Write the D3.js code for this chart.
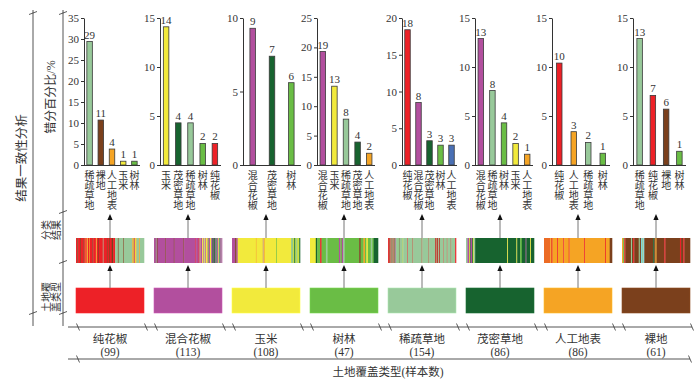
<!DOCTYPE html>
<html><head><meta charset="utf-8">
<script src="https://cdn.jsdelivr.net/npm/d3@7/dist/d3.min.js"></script>
<style>body{margin:0;background:#fff}svg{display:block}</style>
</head><body><svg id="c" width="700" height="382"></svg>
<script>
// ---------------- data ----------------
const classNames = {R:"纯花椒",P:"混合花椒",Y:"玉米",T:"树林",S:"稀疏草地",D:"茂密草地",A:"人工地表",B:"裸地",W:"人工地表"};
const landCovers = ["R","P","Y","T","S","D","A","B"];
const sampleCounts = [99,113,108,47,154,86,86,61];
const yMaxes = [35,15,10,25,20,15,15,15];
const errClasses = [
  ["S","B","A","Y","T"],
  ["Y","D","S","T","R"],
  ["P","D","T"],
  ["P","Y","S","D","A"],
  ["R","P","D","T","W"],
  ["P","S","T","Y","A"],
  ["R","A","S","T"],
  ["S","R","B","T"]
];
const errValues = [
  [29.4,10.7,3.8,0.9,0.9],
  [14.1,4.3,4.3,2.2,2.2],
  [9.3,7.4,5.6],
  [19.3,13.4,7.8,3.9,2.0],
  [18.4,8.5,3.3,2.7,2.7],
  [12.9,7.6,4.3,2.2,1.1],
  [10.4,3.4,2.3,1.2],
  [12.9,7.1,5.7,1.4]
];
const errLabels = [
  [29,11,4,1,1],
  [14,4,4,2,2],
  [9,7,6],
  [19,13,8,4,2],
  [18,8,3,3,3],
  [13,8,4,2,1],
  [10,3,2,1],
  [13,7,6,1]
];
// classified result of every sample (one letter per sample)
const stripes = [
  "RRBRRRBRRRRBRRARYRRARRRRBRRRRYRRBRRRRRRSRRRRRBRRBRRRBBRRRSSSSBSSSSSSSBSSSSSSSSSSSSAASRYASSSSASSSSSS",
  "PPPTPBPPPPPPPPPPPPPBPPPPPPPPPPPPPBPPPPPPPPPPPPPPPBPPPPPPPPPPPPPPPPPPPRPPPRPPYPPPYYPYSPYYYPTPPYYPPDDPDDPSDPPYSDPSP",
  "PPPPPBBPPYYYYYYYYYYYYYYYYYYYYYYYYYYYYYAYYYYYYYYYYPYAYYYYYYYYYYYYYYYYYYTYYYYYYYYYYYYYYYYYYYYYYYSTSYTDTYSTYYTD",
  "YYYYDTTRTTTSTTTTTTTTPTPSTTTTTTTTTTBTTATYTTSTDDD",
  "RRSRBSRBSRSBSRSBSPSSSSSTSSSBSSSSSSYSSSSSSSSSSRSSSSSSSSSSSRSSSSSSSSSSSSSSSSSSSSRSSSSSSSSSSSSSSSRSSSSSSSSSSSSSSRBRSRBRSSRBSSSSSSSRSSSSSSSSRSSSSSSSSRSSSSSSSSSRR",
  "SSPPYDPPDYSSDDDDDDDDDDDDDDDDDDDDDDDDDDDDDDDDDDDDDDDDDDYDDDDDDDDDDDYDDDDTTDDDDDPDDDDDYDDDD",
  "OOOOOOOOAORAAAAAARAAAAAAARAAAAAARAAAAAAAAAAAAAAAAAAARAAAAAAAAAAAAAAAAAAAAAAAAAARAAAAABBB",
  "ATRBBBBBSBRBBBBSBCSCBBBBBBBBDBABBBBBBBRBBBBBBBBBBBBBRBBRBBBBB"
];
const axisTitleBottom = "土地覆盖类型(样本数)";
const leftTitles = ["结果一致性分析","错分百分比/%"];

// ---------------- styles / layout ----------------
const colors = {R:"#ed2127",P:"#b24f9e",Y:"#f2ea3c",T:"#6abd45",S:"#98c99a",D:"#17632f",A:"#f5a424",B:"#7b401c",W:"#4a70b5",O:"#ec6b24",C:"#7fd5d9"};
const CJK = "'Liberation Serif','Noto Sans CJK SC',serif";
const NUM = "'Liberation Serif','Times New Roman',serif";
const panelLeft = i => 76 + 78*i, panelW = 68;
const axisX = [84,160,243,317,402,475,552,633];
const axisEnd = [140,221,301,375,457,533,610,686];
const yTop = 18, yBase = 165;

const svg = d3.select("#c");
const ink = "#333";

function mark(g, x, y, vertical){
  if(vertical){
    g.append("path").attr("d",`M${x-4},${y+1.5}L${x+4},${y-1.5}`).attr("stroke",ink).attr("stroke-width",0.8);
  } else {
    g.append("path").attr("d",`M${x-1.5},${y-3.5}L${x+1.5},${y+3.5}`).attr("stroke",ink).attr("stroke-width",0.8);
  }
}

const gFrame = svg.append("g");
[[33,[13,313]],[63,[13,212,262,313]]].forEach(([x,ys])=>{
  gFrame.append("line").attr("x1",x).attr("x2",x).attr("y1",10).attr("y2",326).attr("stroke","#555").attr("stroke-width",1);
  ys.forEach(y=>mark(gFrame,x,y,true));
});
gFrame.append("text").attr("transform","translate(22,158) rotate(-90)").attr("text-anchor","middle")
  .attr("dominant-baseline","central").attr("font-family",CJK).attr("font-size",12.5).attr("fill",ink).text(leftTitles[0]);
gFrame.append("text").attr("transform","translate(51,97) rotate(-90)").attr("text-anchor","middle")
  .attr("dominant-baseline","central").attr("font-family",CJK).attr("font-size",12).attr("fill",ink).text(leftTitles[1]);
function twoLine(cx, cy, l1, l2, fs, lh){
  const t = gFrame.append("g").attr("transform",`translate(${cx},${cy}) rotate(-90)`);
  [l1,l2].forEach((s,k)=>t.append("text").attr("x",0).attr("y",(k-0.5)*lh).attr("text-anchor","middle")
    .attr("dominant-baseline","central").attr("font-family",CJK).attr("font-size",fs).attr("fill",ink).text(s));
}
twoLine(51,230,"分类","结果",10,10);
twoLine(51,297,"土地覆","盖类型",10,10);

gFrame.append("line").attr("x1",68).attr("x2",692).attr("y1",327).attr("y2",327).attr("stroke","#555");
gFrame.append("line").attr("x1",68).attr("x2",690).attr("y1",359).attr("y2",359).attr("stroke","#555");
landCovers.forEach((c,i)=>{ mark(gFrame,panelLeft(i)+2,327,false); mark(gFrame,panelLeft(i)+panelW+2,327,false); });
mark(gFrame,78,359,false); mark(gFrame,690,359,false);
landCovers.forEach((c,i)=>{
  const cx = panelLeft(i)+panelW/2;
  gFrame.append("text").attr("x",cx).attr("y",338.5).attr("text-anchor","middle").attr("dominant-baseline","central")
    .attr("font-family",CJK).attr("font-size",11.5).attr("fill",ink).text(classNames[c]);
  gFrame.append("text").attr("x",cx).attr("y",351.5).attr("text-anchor","middle").attr("dominant-baseline","central")
    .attr("font-family",NUM).attr("font-size",11.5).attr("fill",ink).text(`(${sampleCounts[i]})`);
});
gFrame.append("text").attr("x",388).attr("y",372).attr("text-anchor","middle").attr("dominant-baseline","central")
  .attr("font-family",CJK).attr("font-size",11.5).attr("fill",ink).text(axisTitleBottom);

landCovers.forEach((lc,i)=>{
  const g = svg.append("g");
  const left = panelLeft(i), cx = left + panelW/2;
  const y = d3.scaleLinear().domain([0,yMaxes[i]]).range([yBase,yTop]);
  const x = d3.scaleBand().domain(d3.range(errClasses[i].length)).range([axisX[i],axisEnd[i]]);
  const ax = g.append("g").attr("transform",`translate(${axisX[i]},0)`)
    .call(d3.axisLeft(y).tickValues(d3.range(0,yMaxes[i]+1,5)).tickSize(3).tickSizeOuter(0).tickPadding(2));
  ax.selectAll("path,line").attr("stroke",ink);
  ax.selectAll("text").attr("font-family",NUM).attr("font-size",11).attr("fill",ink);
  g.append("line").attr("x1",axisX[i]).attr("x2",axisEnd[i]).attr("y1",yBase+0.5).attr("y2",yBase+0.5).attr("stroke",ink);
  const bw = 5.5;
  errClasses[i].forEach((c,k)=>{
    const bx = x(k)+x.bandwidth()/2;
    const v = errValues[i][k];
    g.append("rect").attr("x",bx-bw/2).attr("y",y(v)).attr("width",bw).attr("height",yBase-y(v))
      .attr("fill",colors[c]).attr("stroke","#3a3a3a").attr("stroke-width",0.8);
    g.append("text").attr("x",bx).attr("y",y(v)-3).attr("text-anchor","middle")
      .attr("font-family",NUM).attr("font-size",11).attr("fill",ink).text(errLabels[i][k]);
    Array.from(classNames[c]).forEach((ch,j)=>{
      g.append("text").attr("x",bx).attr("y",175+10*j).attr("text-anchor","middle").attr("dominant-baseline","central")
        .attr("font-family",CJK).attr("font-size",10).attr("fill",ink).text(ch);
    });
  });
  const seq = Array.from(stripes[i]);
  const runs = [];
  seq.forEach((d,k)=>{
    const last = runs[runs.length-1];
    if(last && last.c===d) last.n++; else runs.push({c:d,start:k,n:1});
  });
  const xs = d3.scaleLinear().domain([0,seq.length]).range([left,left+panelW]);
  g.selectAll("rect.s").data(runs).join("rect").attr("class","s")
    .attr("x",d=>xs(d.start)).attr("y",238).attr("width",d=>xs(d.start+d.n)-xs(d.start)+0.3).attr("height",25)
    .attr("fill",d=>colors[d.c]);
  g.append("rect").attr("x",left).attr("y",288).attr("width",panelW).attr("height",25)
    .attr("fill",colors[lc]).attr("stroke",d3.color(colors[lc]).brighter(0.4)).attr("stroke-width",0.6);
  [[238,214],[288,265]].forEach(([y1,tip])=>{
    g.append("line").attr("x1",cx).attr("x2",cx).attr("y1",y1).attr("y2",tip+4).attr("stroke","#777").attr("stroke-width",1);
    g.append("path").attr("d",`M${cx},${tip}L${cx-2.6},${tip+6}L${cx+2.6},${tip+6}Z`).attr("fill","#111");
  });
});
</script></body></html>
